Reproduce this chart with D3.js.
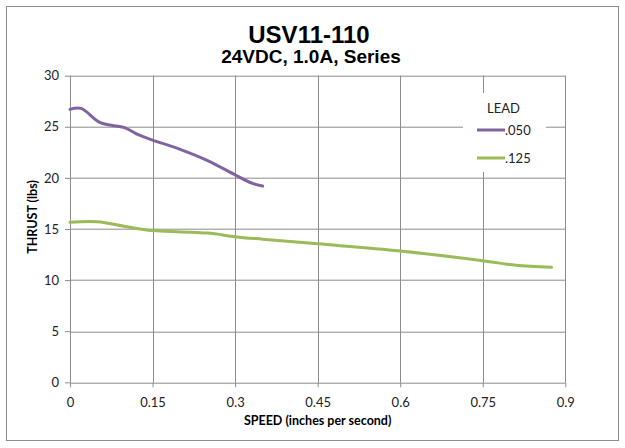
<!DOCTYPE html>
<html>
<head>
<meta charset="utf-8">
<script src="https://cdn.jsdelivr.net/npm/d3@7"></script>
<style>
  body { margin: 0; background: #fff; }
  svg { display: block; }
  .tick text { font-family: Lato, "Open Sans", sans-serif; font-size: 13px; fill: #222; }
</style>
</head>
<body>
<div id="chart"></div>
<script>

// data
var speed050 = [0, 0.02, 0.055, 0.1, 0.125, 0.15, 0.2, 0.25, 0.3, 0.33, 0.35];
var thrust050 = [26.7, 26.8, 25.4, 24.9, 24.2, 23.7, 22.8, 21.7, 20.3, 19.5, 19.2];

var speed125 = [0, 0.05, 0.1, 0.15, 0.25, 0.3, 0.35, 0.45, 0.6, 0.75, 0.81, 0.875];
var thrust125 = [15.65, 15.7, 15.25, 14.85, 14.6, 14.25, 14.0, 13.55, 12.85, 11.9, 11.45, 11.25];

var xTicks = [0, 0.15, 0.3, 0.45, 0.6, 0.75, 0.9];
var yTicks = [0, 5, 10, 15, 20, 25, 30];

var seriesNames = [".050", ".125"];
var seriesColors = ["#8064a2", "#9bbb59"];

var W = 625, H = 448;
var margin = {top: 75.7, right: 59.7, bottom: 65.7, left: 70};
var plot_w = W - margin.left - margin.right;
var plot_h = H - margin.top - margin.bottom;

var svg = d3.select("#chart").append("svg")
  .attr("width", W)
  .attr("height", H);

// outer chart border
svg.append("rect")
  .attr("x", 6.5).attr("y", 6.5)
  .attr("width", 612).attr("height", 434)
  .attr("fill", "#fff")
  .attr("stroke", "#8c8c8c")
  .attr("stroke-width", 1);

var g = svg.append("g")
  .attr("transform", "translate(" + margin.left + "," + margin.top + ")");

var x = d3.scaleLinear().domain([0, 0.9]).range([0, plot_w]);
var y = d3.scaleLinear().domain([0, 30]).range([plot_h, 0]);

// gridlines
g.append("g").selectAll("line").data(yTicks).join("line")
  .attr("x1", 0).attr("x2", plot_w)
  .attr("y1", function(d) { return Math.round(y(d)) + 0.5; })
  .attr("y2", function(d) { return Math.round(y(d)) + 0.5; })
  .attr("stroke", "#8c8c8c");

g.append("g").selectAll("line").data(xTicks).join("line")
  .attr("y1", 0).attr("y2", plot_h)
  .attr("x1", function(d) { return Math.round(x(d)) + 0.5; })
  .attr("x2", function(d) { return Math.round(x(d)) + 0.5; })
  .attr("stroke", "#8c8c8c");

// axes
var xAxis = d3.axisBottom(x).tickValues(xTicks).tickSize(5).tickPadding(10)
  .tickFormat(function(d) { return String(+d.toFixed(2)); });
var yAxis = d3.axisLeft(y).tickValues(yTicks).tickSize(5).tickPadding(6);

g.append("g")
  .attr("transform", "translate(0," + plot_h + ")")
  .call(xAxis)
  .call(function(a) {
    a.select(".domain").remove();
    a.selectAll(".tick line").attr("stroke", "#8c8c8c");
  });

g.append("g")
  .call(yAxis)
  .call(function(a) {
    a.select(".domain").remove();
    a.selectAll(".tick line").attr("stroke", "#8c8c8c");
  });

// series lines (smoothed like the spreadsheet chart)
var line = d3.line()
  .x(function(d) { return x(d[0]); })
  .y(function(d) { return y(d[1]); })
  .curve(d3.curveCatmullRom.alpha(0.5));

var series = [
  d3.zip(speed050, thrust050),
  d3.zip(speed125, thrust125)
];

g.selectAll(".series").data(series).join("path")
  .attr("class", "series")
  .attr("fill", "none")
  .attr("stroke", function(d, i) { return seriesColors[i]; })
  .attr("stroke-width", 3)
  .attr("stroke-linecap", "round")
  .attr("d", line);

// legend
var legend = svg.append("g");
legend.append("rect")
  .attr("x", 463).attr("y", 93)
  .attr("width", 83).attr("height", 79)
  .attr("fill", "#fff");

legend.append("text")
  .attr("x", 503.5).attr("y", 113)
  .attr("text-anchor", "middle")
  .style("font-family", "Lato, 'Open Sans', sans-serif")
  .style("font-size", "13px")
  .attr("fill", "#222")
  .text("LEAD");

seriesNames.forEach(function(name, i) {
  var ly = 130 + i * 28;
  legend.append("line")
    .attr("x1", 477).attr("x2", 505)
    .attr("y1", ly).attr("y2", ly)
    .attr("stroke", seriesColors[i])
    .attr("stroke-width", 3);
  legend.append("text")
    .attr("x", 505).attr("y", ly + 4.5)
    .style("font-family", "Lato, 'Open Sans', sans-serif")
    .style("font-size", "13px")
    .attr("fill", "#222")
    .text(name);
});

// titles
svg.append("text")
  .attr("x", 309).attr("y", 43)
  .attr("text-anchor", "middle")
  .style("font-family", "'Liberation Sans', Arial, sans-serif")
  .style("font-weight", "bold")
  .style("font-size", "24px")
  .attr("fill", "#000")
  .text("USV11-110");

svg.append("text")
  .attr("x", 311).attr("y", 63)
  .attr("text-anchor", "middle")
  .style("font-family", "'Liberation Sans', Arial, sans-serif")
  .style("font-weight", "bold")
  .style("font-size", "19px")
  .attr("fill", "#000")
  .text("24VDC, 1.0A, Series");

// axis labels
svg.append("text")
  .attr("x", margin.left + plot_w / 2).attr("y", 425)
  .attr("text-anchor", "middle")
  .style("font-family", "Lato, 'Open Sans', sans-serif")
  .style("font-weight", "bold")
  .style("font-size", "12.5px")
  .attr("fill", "#000")
  .text("SPEED (inches per second)");

svg.append("text")
  .attr("transform", "translate(37," + 217 + ") rotate(-90)")
  .attr("text-anchor", "middle")
  .style("font-family", "Lato, 'Open Sans', sans-serif")
  .style("font-weight", "bold")
  .style("font-size", "12.5px")
  .attr("fill", "#000")
  .text("THRUST (lbs)");

</script>
</body>
</html>
